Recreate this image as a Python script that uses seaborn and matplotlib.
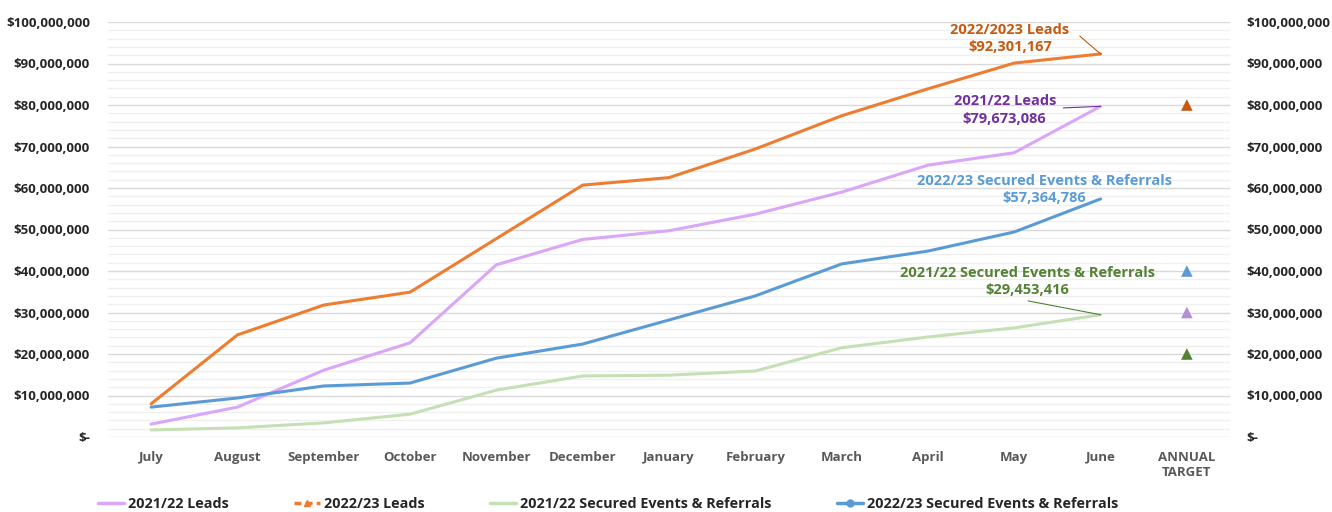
import pandas as pd
import numpy as np
import seaborn as sns
import matplotlib.pyplot as plt
from matplotlib.lines import Line2D
from matplotlib.ticker import MultipleLocator, FuncFormatter

# данные (в млн долларов)
months = ['July', 'August', 'September', 'October', 'November', 'December',
          'January', 'February', 'March', 'April', 'May', 'June']
leads_2122 = [3.1, 7.2, 16.1, 22.7, 41.5, 47.6, 49.7, 53.7, 59.0, 65.5, 68.5, 79.673086]
leads_2223 = [8.0, 24.6, 31.8, 34.9, 47.8, 60.7, 62.5, 69.4, 77.4, 83.9, 90.1, 92.301167]
secured_2122 = [1.7, 2.2, 3.4, 5.5, 11.3, 14.7, 14.9, 15.9, 21.5, 24.1, 26.3, 29.453416]
secured_2223 = [7.2, 9.4, 12.3, 13.0, 19.0, 22.4, 28.2, 34.0, 41.7, 44.8, 49.4, 57.364786]
series_names = ['2021/22 Leads', '2022/23 Leads',
                '2021/22 Secured Events & Referrals', '2022/23 Secured Events & Referrals']
targets = [30, 80, 20, 40]  # годовая цель для каждой серии, млн
target_label = 'ANNUAL\nTARGET'

line_colors = ['#D9A6F9', '#ED7D31', '#C5E0B4', '#5B9BD5']
target_colors = ['#B48FD6', '#C55A11', '#548235', '#5B9BD5']

sns.set_theme(style='white')
plt.rcParams['font.family'] = ['Open Sans', 'DejaVu Sans']

# длинная таблица для seaborn
rows = []
for name, vals in zip(series_names, [leads_2122, leads_2223, secured_2122, secured_2223]):
    for i, v in enumerate(vals):
        rows.append({'Series': name, 'x': i, 'Value': v * 1e6})
df = pd.DataFrame(rows)
df_t = pd.DataFrame({'Series': series_names, 'x': len(months), 'Value': np.array(targets) * 1e6})

fig = plt.figure(figsize=(13.32, 5.12), dpi=100)
ax = fig.add_axes([108 / 1332, 75 / 512, 1122 / 1332, 415 / 512])

sns.lineplot(data=df, x='x', y='Value', hue='Series', hue_order=series_names,
             palette=line_colors, linewidth=2.2, legend=False, ax=ax)
sns.scatterplot(data=df_t, x='x', y='Value', hue='Series', hue_order=series_names,
                palette=target_colors, marker='^', s=70, edgecolor='none', legend=False, ax=ax)

ax.set_xlim(-0.5, 12.5)
ax.set_ylim(0, 100e6)
ax.set_xticks(range(len(months) + 1))
ax.set_xticklabels(months + [target_label], fontsize=9.5, fontweight='bold', color='#595959')
ax.yaxis.set_major_locator(MultipleLocator(10e6))
ax.yaxis.set_minor_locator(MultipleLocator(2e6))
fmt = FuncFormatter(lambda v, p: '$-' if v == 0 else '${:,.0f}'.format(v))
ax.yaxis.set_major_formatter(fmt)
ax.tick_params(axis='y', labelsize=9.5, length=0, pad=13, which='both')
ax.tick_params(axis='x', length=0, pad=10)
for lab in ax.get_yticklabels():
    lab.set_fontweight('bold')
ax.grid(True, which='major', axis='y', color='#D9D9D9', linewidth=1)
ax.grid(True, which='minor', axis='y', color='#EFEFEF', linewidth=0.9)
ax.set_axisbelow(True)
for s in ax.spines.values():
    s.set_visible(False)
ax.set_xlabel('')
ax.set_ylabel('')

ax2 = ax.twinx()
ax2.set_ylim(ax.get_ylim())
ax2.yaxis.set_major_locator(MultipleLocator(10e6))
ax2.yaxis.set_major_formatter(fmt)
ax2.tick_params(axis='y', labelsize=9.5, length=0, pad=12)
for lab in ax2.get_yticklabels():
    lab.set_fontweight('bold')
for s in ax2.spines.values():
    s.set_visible(False)

# подписи к концам линий: текст, позиция текста, начало выноски
ends = [leads_2223[-1], leads_2122[-1], secured_2223[-1], secured_2122[-1]]
ann = [
    ('2022/2023 Leads', 9.95, 96.0e6, '#C55A11', (10.76, 96.6e6)),
    ('2021/22 Leads', 9.89, 78.8e6, '#7030A0', (10.57, 79.3e6)),
    ('2022/23 Secured Events & Referrals', 10.35, 59.6e6, '#5B9BD5', None),
    ('2021/22 Secured Events & Referrals', 10.15, 37.4e6, '#548235', (10.16, 32.8e6)),
]
for (title, tx, ty, c, start), end in zip(ann, ends):
    ax.text(tx, ty, '{}\n${:,.0f}'.format(title, end * 1e6), ha='center', va='center',
            fontsize=10.5, fontweight='bold', color=c, linespacing=1.3)
    if start is not None:
        ax.plot([start[0], 11], [start[1], end * 1e6], color=c, linewidth=0.8)

handles = [
    Line2D([], [], color=line_colors[0], linewidth=2.5),
    Line2D([], [], color=line_colors[1], linewidth=2.5, linestyle=(0, (2, 1.2)),
           marker='^', markersize=5),
    Line2D([], [], color=line_colors[2], linewidth=2.5),
    Line2D([], [], color=line_colors[3], linewidth=2.5, marker='o', markersize=5),
]
fig.legend(handles, series_names, loc='center left', bbox_to_anchor=(85 / 1332, 8 / 512),
           ncol=4, frameon=False, handlelength=1.8, handletextpad=0.3, columnspacing=4.5,
           prop={'size': 10.4, 'weight': 'bold'})

plt.savefig('out.png', dpi=100)
